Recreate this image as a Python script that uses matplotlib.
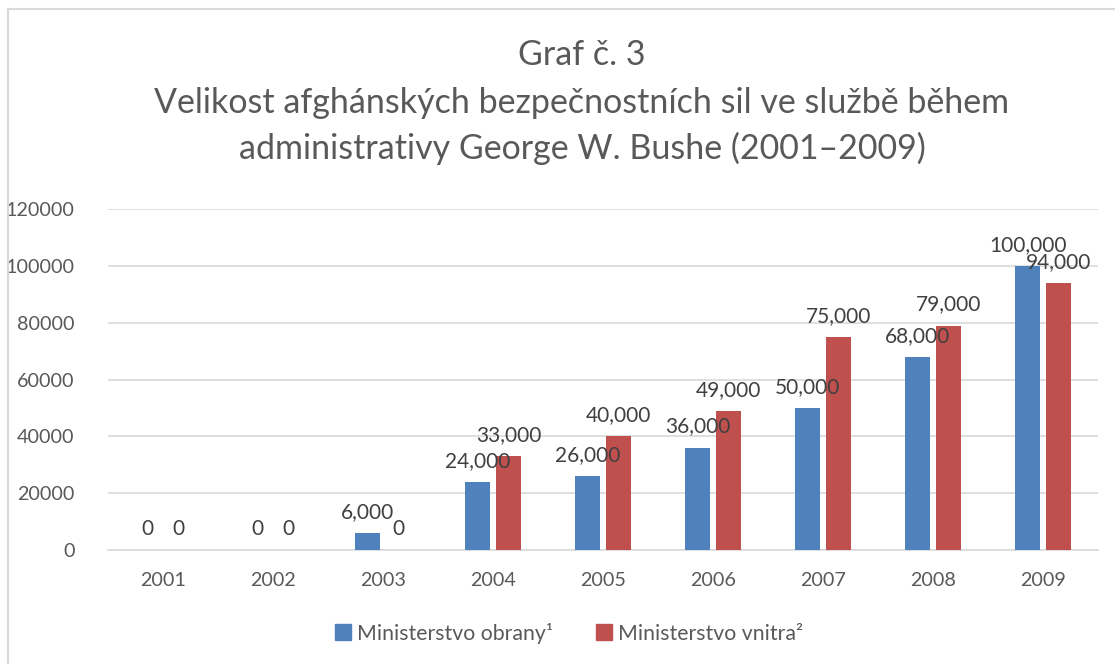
import matplotlib.pyplot as plt
import matplotlib.patches as mpatches
import numpy as np

plt.rcParams['font.family'] = ['Lato', 'DejaVu Sans']

years = ["2001", "2002", "2003", "2004", "2005", "2006", "2007", "2008", "2009"]
obrana = [0, 0, 6000, 24000, 26000, 36000, 50000, 68000, 100000]
vnitra = [0, 0, 0, 33000, 40000, 49000, 75000, 79000, 94000]
series_names = ["Ministerstvo obrany¹", "Ministerstvo vnitra²"]
colors = ["#4f81bd", "#c0504d"]

title_lines = ["Graf č. 3",
               "Velikost afghánských bezpečnostních sil ve službě během",
               "administrativy George W. Bushe (2001–2009)"]

text_color = "#595959"
grid_color = "#d9d9d9"

fig = plt.figure(figsize=(11.15, 6.64), dpi=100)
ax = fig.add_axes([0.0969, 0.1717, 0.8879, 0.5135])

# chart border (cropped at right/bottom)
fig.patches.append(mpatches.Rectangle((8 / 1115, -0.05), 1.2, 1 - 9 / 664 + 0.05,
                                      transform=fig.transFigure, fill=False,
                                      edgecolor=grid_color, linewidth=1.5))

x = np.arange(len(years))
w = 0.227
off = 0.14
for vals, col, name, dx in zip([obrana, vnitra], colors, series_names, [-off, off]):
    bars = ax.bar(x + dx, vals, width=w, color=col, label=name, zorder=3)
    for b, v in zip(bars, vals):
        ax.annotate(f"{v:,}", (b.get_x() + b.get_width() / 2, v),
                    xytext=(0, 8), textcoords="offset points",
                    ha="center", va="bottom", fontsize=15, color="#404040", zorder=6)

ax.set_xlim(-0.5, len(years) - 0.5)
ax.set_ylim(0, 120000)
ax.set_yticks(range(0, 120001, 20000))
ax.set_yticklabels([str(t) for t in range(0, 120001, 20000)])
ax.set_xticks(x)
ax.set_xticklabels(years)
ax.grid(axis="y", color=grid_color, linewidth=1.2, zorder=0)
for s in ["top", "right", "left"]:
    ax.spines[s].set_visible(False)
ax.spines["bottom"].set_color(grid_color)
ax.spines["bottom"].set_linewidth(1.2)
ax.tick_params(axis="both", length=0, labelsize=14.2, colors=text_color)
ax.tick_params(axis="y", pad=24)
ax.tick_params(axis="x", pad=16)

for line, ypix in zip(title_lines, [55, 103, 148]):
    fig.text(582 / 1115, 1 - ypix / 664, line, ha="center", va="center",
             fontsize=24.5, color=text_color)

handles = [mpatches.Patch(color=c) for c in colors]
fig.legend(handles, series_names, loc="center", bbox_to_anchor=(569 / 1115, 1 - 633 / 664),
           ncol=2, frameon=False, fontsize=15.3, labelcolor=text_color,
           handlelength=0.75, handleheight=0.75, handletextpad=0.3, columnspacing=2.0)

fig.savefig("out.png", dpi=100)
